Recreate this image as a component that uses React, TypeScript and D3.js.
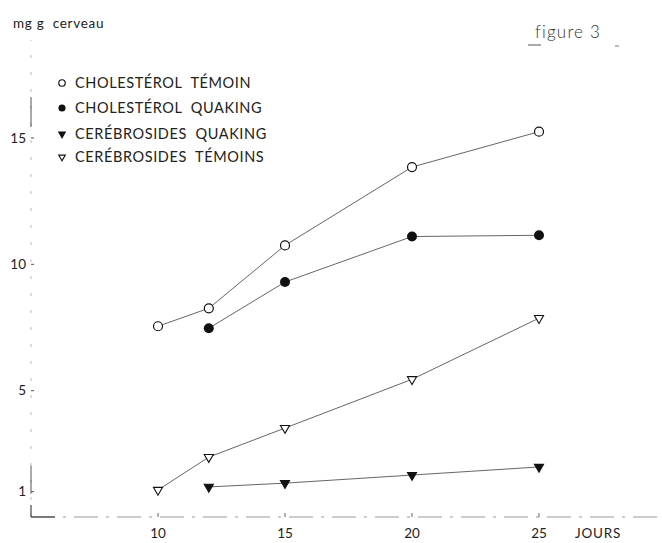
import * as d3 from 'd3';

// jours (âge des souris)
const days = [10, 12, 15, 20, 25];
const daysQuaking = [12, 15, 20, 25];

// mg / g cerveau
const cholTemoin = [7.55, 8.26, 10.75, 13.85, 15.25];
const cholQuaking = [7.47, 9.3, 11.1, 11.15];
const cerebQuaking = [1.19, 1.34, 1.66, 1.98];
const cerebTemoins = [1.07, 2.37, 3.52, 5.45, 7.87];

const yTicks = [1, 5, 10, 15];
const xTicks = [10, 15, 20, 25];
const legendLabels = [
  'CHOLESTÉROL  TÉMOIN',
  'CHOLESTÉROL  QUAKING',
  'CERÉBROSIDES  QUAKING',
  'CERÉBROSIDES  TÉMOINS',
];

const W = 662;
const H = 543;

export default function App() {
  const x = d3.scaleLinear().domain([5, 30]).range([31, 666]);
  const y = d3.scaleLinear().domain([0, 15]).range([517, 138]);

  const line = d3.line<[number, number]>()
    .x(d => x(d[0]))
    .y(d => y(d[1]));

  const zip = (xs: number[], ys: number[]) => xs.map((d, i) => [d, ys[i]] as [number, number]);

  const series = [
    { pts: zip(days, cholTemoin), kind: 'circleOpen' },
    { pts: zip(daysQuaking, cholQuaking), kind: 'circleFilled' },
    { pts: zip(daysQuaking, cerebQuaking), kind: 'triFilled' },
    { pts: zip(days, cerebTemoins), kind: 'triOpen' },
  ];

  const marker = (kind: string, cx: number, cy: number, s = 1, key?: any) => {
    if (kind === 'circleOpen')
      return <circle key={key} cx={cx} cy={cy} r={4.5 * s} fill="#fff" stroke="#111" strokeWidth={1.2} />;
    if (kind === 'circleFilled')
      return <circle key={key} cx={cx} cy={cy} r={5 * s} fill="#111" />;
    const sym = d3.symbol().type(d3.symbolTriangle).size(36 * s * s)();
    return (
      <path key={key} d={sym!} transform={`translate(${cx},${cy}) rotate(180)`}
        fill={kind === 'triFilled' ? '#111' : '#fff'} stroke="#111" strokeWidth={1.1} />
    );
  };

  return (
    <svg width={W} height={H} style={{ position: 'absolute', left: 0, top: 0, background: '#fff' }}
      fontFamily="Lato, 'Open Sans', sans-serif">
      {/* axes */}
      <line x1={x(5)} x2={W} y1={y(0)} y2={y(0)} stroke="#999" strokeWidth={1.1} strokeDasharray="24,8,3,8" />
      <line x1={x(5)} x2={x(5)} y1={y(0)} y2={40} stroke="#bbb" strokeWidth={1} strokeDasharray="3,14" />
      <line x1={x(5)} x2={x(5)} y1={y(0)} y2={y(0) - 12} stroke="#444" strokeWidth={1.2} />
      <line x1={x(5)} x2={x(5) + 24} y1={y(0)} y2={y(0)} stroke="#444" strokeWidth={1.2} />
      <line x1={x(5)} x2={x(5)} y1={y(1) + 2} y2={y(1) - 26} stroke="#555" strokeWidth={1} />
      <line x1={x(5)} x2={x(5)} y1={97} y2={127} stroke="#555" strokeWidth={1} />

      {yTicks.map(t => (
        <g key={t}>
          <line x1={x(5)} x2={x(5) + 3} y1={y(t)} y2={y(t)} stroke="#555" />
          <text x={26} y={y(t)} dy="0.35em" textAnchor="end" fontSize={13.5} fill="#222">{t}</text>
        </g>
      ))}
      {xTicks.map(t => (
        <g key={t}>
          <line x1={x(t)} x2={x(t)} y1={y(0)} y2={y(0) - 4} stroke="#666" />
          <text x={x(t)} y={538} textAnchor="middle" fontSize={13.5} fill="#222">{t}</text>
        </g>
      ))}
      <text x={575} y={538} fontSize={13.5} fill="#222" letterSpacing={0.8}>JOURS</text>

      <text x={13} y={28} fontSize={13.5} fill="#222" letterSpacing={0.7} style={{ whiteSpace: 'pre' }}>mg g  cerveau</text>
      <text x={535} y={38} fontSize={17} fill="#333" fontWeight={300} letterSpacing={1.2}>figure 3</text>
      <line x1={528} x2={541} y1={45} y2={45} stroke="#555" />
      <line x1={615} x2={619} y1={46} y2={46} stroke="#777" />

      {/* series */}
      {series.map((s, i) => (
        <g key={i}>
          <path d={line(s.pts)!} fill="none" stroke="#666" strokeWidth={1} />
          {s.pts.map((p, j) => marker(s.kind, x(p[0]), y(p[1]), 1, j))}
        </g>
      ))}

      {/* legend */}
      {legendLabels.map((lab, i) => {
        const ly = [83, 108, 134, 157][i];
        return (
          <g key={lab}>
            {marker(series[i].kind, 62, ly, 0.72)}
            <text x={75} y={ly} dy="0.36em" fontSize={14.5} fill="#222" letterSpacing={0.6}
              style={{ whiteSpace: 'pre' }}>{lab}</text>
          </g>
        );
      })}
    </svg>
  );
}
